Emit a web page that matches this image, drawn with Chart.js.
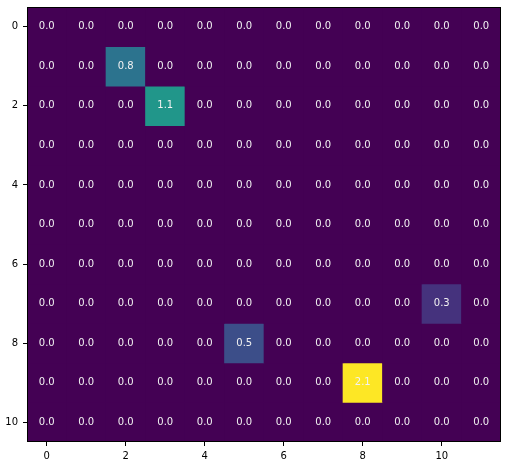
<!DOCTYPE html>
<html>
<head>
<meta charset="utf-8">
<script src="https://cdn.jsdelivr.net/npm/chart.js@4"></script>
<style>
  html, body { margin: 0; padding: 0; background: #fff; }
  #wrap { width: 508px; height: 466px; position: relative; }
</style>
</head>
<body>
<div id="wrap"><canvas id="heat"></canvas></div>
<script>
// grid labels
const colLabels = ['0', '1', '2', '3', '4', '5', '6', '7', '8', '9', '10', '11'];
const rowLabels = ['0', '1', '2', '3', '4', '5', '6', '7', '8', '9', '10'];
const yTicks = [0, 2, 4, 6, 8, 10];

// cell values, one array per row
const row0  = [0, 0, 0,   0,   0, 0,   0, 0, 0,   0, 0,   0];
const row1  = [0, 0, 0.8, 0,   0, 0,   0, 0, 0,   0, 0,   0];
const row2  = [0, 0, 0,   1.1, 0, 0,   0, 0, 0,   0, 0,   0];
const row3  = [0, 0, 0,   0,   0, 0,   0, 0, 0,   0, 0,   0];
const row4  = [0, 0, 0,   0,   0, 0,   0, 0, 0,   0, 0,   0];
const row5  = [0, 0, 0,   0,   0, 0,   0, 0, 0,   0, 0,   0];
const row6  = [0, 0, 0,   0,   0, 0,   0, 0, 0,   0, 0,   0];
const row7  = [0, 0, 0,   0,   0, 0,   0, 0, 0,   0, 0.3, 0];
const row8  = [0, 0, 0,   0,   0, 0.5, 0, 0, 0,   0, 0,   0];
const row9  = [0, 0, 0,   0,   0, 0,   0, 0, 2.1, 0, 0,   0];
const row10 = [0, 0, 0,   0,   0, 0,   0, 0, 0,   0, 0,   0];
const rows = [row0, row1, row2, row3, row4, row5, row6, row7, row8, row9, row10];

// viridis colormap stops
const viridis = ['#440154', '#482475', '#414487', '#355f8d', '#2a788e', '#21918c',
                 '#22a884', '#44bf70', '#7ad151', '#bddf26', '#fde725'];

function hexToRgb(h) {
    return [parseInt(h.slice(1, 3), 16), parseInt(h.slice(3, 5), 16), parseInt(h.slice(5, 7), 16)];
}

function colorFor(v, vmin, vmax) {
    let t = (v - vmin) / (vmax - vmin);
    t = Math.max(0, Math.min(1, t));
    const pos = t * (viridis.length - 1);
    const i = Math.min(Math.floor(pos), viridis.length - 2);
    const f = pos - i;
    const a = hexToRgb(viridis[i]), b = hexToRgb(viridis[i + 1]);
    const c = a.map((x, k) => Math.round(x + (b[k] - x) * f));
    return `rgb(${c[0]}, ${c[1]}, ${c[2]})`;
}

const allVals = rows.flat();
const vmin = Math.min(...allVals);
const vmax = Math.max(...allVals);

// one floating-bar dataset per row
const datasets = rows.map((vals, r) => ({
    label: rowLabels[r],
    data: vals.map(() => [r - 0.5, r + 0.5]),
    values: vals,
    backgroundColor: vals.map(v => colorFor(v, vmin, vmax)),
    borderWidth: 0,
    grouped: false,
    barPercentage: 1,
    categoryPercentage: 1
}));

// fill behind cells so no seams show between bars
const cellBack = {
    id: 'cellBack',
    beforeDatasetsDraw(chart) {
        const a = chart.chartArea;
        const ctx = chart.ctx;
        ctx.save();
        ctx.fillStyle = colorFor(vmin, vmin, vmax);
        ctx.fillRect(a.left, a.top, a.right - a.left, a.bottom - a.top);
        ctx.restore();
    }
};

// write cell values and the frame
const cellText = {
    id: 'cellText',
    afterDatasetsDraw(chart) {
        const ctx = chart.ctx;
        ctx.save();
        ctx.font = '10px "DejaVu Sans"';
        ctx.fillStyle = '#f2f2f2';
        ctx.textAlign = 'center';
        ctx.textBaseline = 'middle';
        chart.data.datasets.forEach((ds, di) => {
            chart.getDatasetMeta(di).data.forEach((bar, i) => {
                const p = bar.getProps(['x', 'y', 'base'], true);
                ctx.fillText(ds.values[i].toFixed(1), p.x, (p.y + p.base) / 2);
            });
        });
        const a = chart.chartArea;
        ctx.strokeStyle = '#000';
        ctx.lineWidth = 1;
        ctx.strokeRect(a.left + 0.5, a.top + 0.5, a.right - a.left - 1, a.bottom - a.top - 1);
        ctx.restore();
    }
};

new Chart(document.getElementById('heat'), {
    type: 'bar',
    data: { labels: colLabels, datasets: datasets },
    options: {
        responsive: true,
        maintainAspectRatio: false,
        animation: false,
        layout: { padding: { left: 0, top: 7, right: 7, bottom: 0 } },
        plugins: {
            legend: { display: false },
            tooltip: { enabled: false }
        },
        scales: {
            x: {
                offset: true,
                grid: {
                    display: true,
                    drawOnChartArea: false,
                    drawTicks: true,
                    tickLength: 4,
                    offset: false,
                    color: ctx => (ctx.index % 2 === 0 ? '#000' : 'rgba(0,0,0,0)')
                },
                border: { display: false },
                ticks: {
                    color: '#000',
                    font: { family: 'DejaVu Sans', size: 10 },
                    maxRotation: 0,
                    autoSkip: false,
                    padding: 4,
                    callback: (v, i) => (i % 2 === 0 ? colLabels[i] : '')
                },
                afterFit: s => { s.height = 24; s.paddingLeft = 0; s.paddingRight = 0; }
            },
            y: {
                type: 'linear',
                min: -0.5,
                max: 10.5,
                reverse: true,
                grid: { display: true, drawOnChartArea: false, drawTicks: true, tickLength: 4, color: '#000' },
                border: { display: false },
                afterBuildTicks: s => { s.ticks = yTicks.map(v => ({ value: v })); },
                ticks: {
                    color: '#000',
                    font: { family: 'DejaVu Sans', size: 10 },
                    padding: 5,
                    callback: v => String(v)
                },
                afterFit: s => { s.width = 27; s.paddingTop = 0; s.paddingBottom = 0; }
            }
        }
    },
    plugins: [cellBack, cellText]
});
</script>
</body>
</html>
